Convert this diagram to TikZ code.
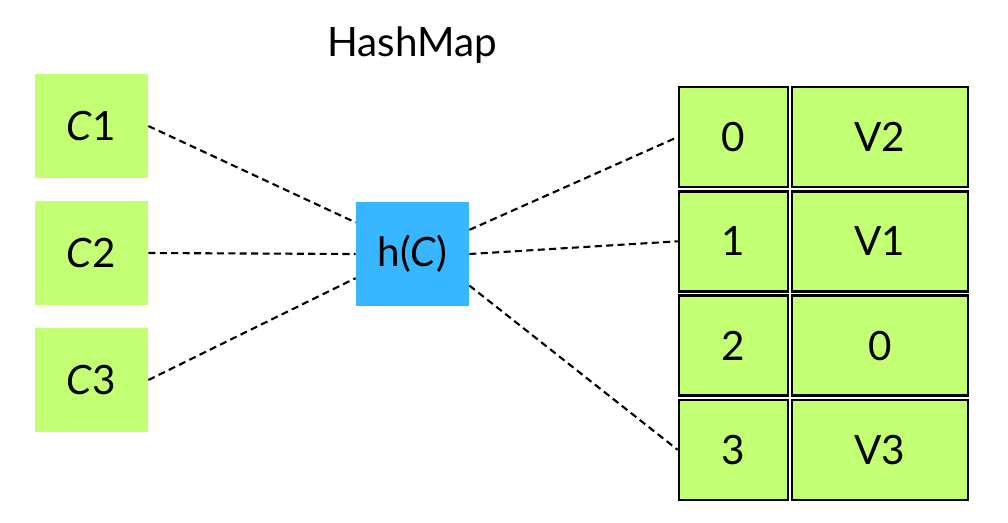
\documentclass[tikz,border=0pt]{standalone}
\usepackage{fontspec}
\setmainfont{Lato}
\definecolor{keygreen}{HTML}{C2FF72}
\definecolor{hashblue}{HTML}{38B6FF}
\begin{document}
\begin{tikzpicture}[x=0.02cm,y=-0.02cm,
  every node/.style={font=\fontsize{23}{28}\selectfont},
  keybox/.style={fill=keygreen,minimum width=2.26cm,minimum height=2.08cm,inner sep=0pt},
  hashbox/.style={fill=hashblue,minimum width=2.26cm,minimum height=2.08cm,inner sep=0pt},
  slot/.style={draw,line width=1.4pt,fill=keygreen,minimum width=2.18cm,minimum height=2cm,inner sep=0pt},
  val/.style={slot,minimum width=3.52cm},
  link/.style={dash pattern=on 4pt off 2.5pt,line width=1.2pt}]
\useasboundingbox (0,0) rectangle (1008,522);
\node (title) at (412,45) {HashMap};
\foreach \i in {1,2,3} \node[keybox] (c\i) at (91.5,{126+127*(\i-1)}) {\textit{C}\i};
\node[hashbox] (h) at (412.5,254) {h(\textit{C})};
\foreach \i/\v in {0/V2,1/V1,2/0,3/V3} {
  \node[slot] (s\i) at (733.5,{137+104.3*\i}) {\i};
  \node[val] (v\i) at (880,{137+104.3*\i}) {\v};
}
\draw[link] (c1.east) -- (h.151);
\draw[link] (c2.east) -- (h.west);
\draw[link] (c3.east) -- (h.203);
\draw[link] (h.23) -- (s0.west);
\draw[link] (h.east) -- (s1.west);
\draw[link] (h.331) -- (s3.west);
\end{tikzpicture}
\end{document}
